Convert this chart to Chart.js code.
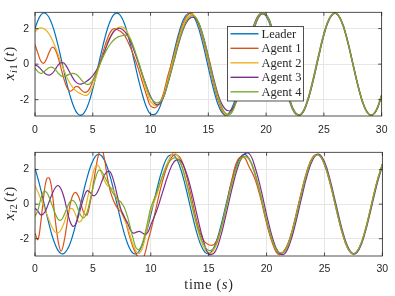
<!DOCTYPE html>
<html>
<head>
<meta charset="utf-8">
<script src="https://cdn.jsdelivr.net/npm/chart.js@4.4.1/dist/chart.umd.min.js"></script>
<style>
  html, body { margin: 0; padding: 0; background: #fff; overflow: hidden; }
  #wrap { position: relative; width: 395px; height: 296px; }
  #top, #bottom { position: absolute; left: 0; }
  #top { top: 0; }
  #bottom { top: 140px; }
</style>
</head>
<body>
<div id="wrap">
  <canvas id="top" width="395" height="140"></canvas>
  <canvas id="bottom" width="395" height="156"></canvas>
</div>
<script>
// time samples (s)
const times = [0,0.25,0.5,0.75,1,1.25,1.5,1.75,2,2.25,2.5,2.75,3,3.25,3.5,3.75,4,4.25,4.5,4.75,5,5.25,5.5,5.75,6,6.25,6.5,6.75,7,7.25,7.5,7.75,8,8.25,8.5,8.75,9,9.25,9.5,9.75,10,
  10.5,11,11.5,12,12.5,13,13.5,14,14.5,15,15.5,16,16.5,17,17.5,18,18.5,19,19.5,20,20.5,21,21.5,22,22.5,23,23.5,24,24.5,25,25.5,26,26.5,27,27.5,28,28.5,29,29.5,30];

const seriesNames = ['Leader', 'Agent 1', 'Agent 2', 'Agent 3', 'Agent 4'];
const xTicks = [0, 5, 10, 15, 20, 25, 30];
const yTicks = [-2, 0, 2];

// x_{i1}(t)
const leaderX1 = [2.01,2.46,2.76,2.88,2.82,2.59,2.20,1.67,1.04,0.34,-0.38,-1.08,-1.70,-2.22,-2.61,-2.83,-2.87,-2.74,-2.44,-1.98,-1.40,-0.74,-0.02,0.69,1.36,1.95,2.41,2.73,2.87,2.84,2.63,2.26,1.74,1.13,0.43,-0.29,-0.99,-1.62,-2.16,-2.57,-2.81,
  -2.77,-2.05,-0.83,0.60,1.87,2.69,2.85,2.31,1.21,-0.19,-1.54,-2.52,-2.88,-2.53,-1.57,-0.21,1.19,2.30,2.85,2.70,1.89,0.62,-0.81,-2.03,-2.77,-2.82,-2.18,-1.01,0.41,1.73,2.62,2.87,2.42,1.38,0.00,-1.38,-2.42,-2.87,-2.62,-1.72];
const agent1X1 = [1.10,0.62,0.18,0.05,0.30,0.70,0.95,0.82,0.38,-0.22,-0.82,-1.30,-1.52,-1.45,-1.27,-1.28,-1.45,-1.58,-1.56,-1.35,-0.95,-0.55,-0.12,0.38,0.92,1.40,1.78,1.98,1.98,1.90,1.80,1.62,1.32,0.95,0.55,0.10,-0.38,-0.92,-1.45,-1.95,-2.35,
  -2.42,-1.88,-0.65,0.45,1.68,2.55,2.88,2.48,1.50,0.15,-1.25,-2.32,-2.90,-2.68,-1.75,-0.40,1.05,2.22,2.82,2.76,1.98,0.72,-0.72,-1.96,-2.74,-2.84,-2.22,-1.06,0.36,1.70,2.60,2.87,2.44,1.40,0.02,-1.36,-2.41,-2.87,-2.63,-1.74];
const agent2X1 = [1.82,1.98,2.04,2.00,1.88,1.66,1.36,0.98,0.55,0.10,-0.33,-0.72,-1.05,-1.30,-1.48,-1.60,-1.68,-1.75,-1.75,-1.58,-1.25,-0.80,-0.28,0.25,0.75,1.20,1.55,1.82,1.98,2.07,2.10,2.02,1.80,1.45,1.00,0.48,-0.05,-0.62,-1.18,-1.70,-2.10,
  -2.35,-1.98,-0.85,0.35,1.55,2.45,2.80,2.55,1.62,0.28,-1.10,-2.20,-2.84,-2.75,-1.88,-0.50,0.95,2.15,2.80,2.78,2.02,0.78,-0.66,-1.92,-2.72,-2.85,-2.25,-1.10,0.32,1.66,2.58,2.87,2.46,1.43,0.05,-1.33,-2.39,-2.87,-2.65,-1.77];
const agent3X1 = [-0.05,-0.12,-0.28,-0.45,-0.58,-0.62,-0.52,-0.30,-0.05,0.08,0.06,-0.15,-0.45,-0.75,-0.98,-1.10,-1.12,-1.05,-0.95,-0.82,-0.65,-0.42,-0.12,0.25,0.68,1.10,1.48,1.78,1.95,2.02,1.98,1.85,1.62,1.30,0.90,0.45,-0.02,-0.50,-0.98,-1.42,-1.82,
  -2.28,-2.05,-1.10,0.10,1.30,2.22,2.62,2.50,1.70,0.45,-0.90,-2.00,-2.55,-2.58,-1.95,-0.65,0.80,2.05,2.76,2.78,2.08,0.86,-0.58,-1.88,-2.70,-2.85,-2.28,-1.15,0.26,1.62,2.56,2.86,2.48,1.46,0.08,-1.30,-2.37,-2.86,-2.66,-1.79];
const agent4X1 = [-0.22,-0.42,-0.52,-0.45,-0.30,-0.19,-0.18,-0.30,-0.50,-0.66,-0.70,-0.64,-0.56,-0.52,-0.55,-0.68,-0.88,-1.05,-1.14,-1.10,-0.90,-0.58,-0.18,0.20,0.55,0.86,1.12,1.32,1.46,1.55,1.60,1.63,1.60,1.40,1.02,0.55,0.05,-0.48,-1.00,-1.48,-1.88,
  -2.18,-2.00,-1.05,0.15,1.38,2.30,2.72,2.55,1.68,0.38,-1.02,-2.12,-2.78,-2.74,-1.90,-0.55,0.90,2.12,2.79,2.78,2.04,0.80,-0.64,-1.91,-2.72,-2.85,-2.25,-1.11,0.31,1.65,2.58,2.87,2.46,1.44,0.06,-1.32,-2.39,-2.87,-2.65,-1.77];

// x_{i2}(t)
const leaderX2 = [2.06,1.49,0.84,0.13,-0.58,-1.26,-1.87,-2.35,-2.69,-2.86,-2.85,-2.67,-2.33,-1.83,-1.22,-0.53,0.18,0.89,1.53,2.09,2.51,2.79,2.88,2.80,2.54,2.12,1.58,0.93,0.23,-0.49,-1.18,-1.79,-2.29,-2.65,-2.85,-2.87,-2.71,-2.38,-1.91,-1.31,-0.62,
  0.79,2.02,2.76,2.82,2.19,1.02,-0.40,-1.72,-2.61,-2.87,-2.43,-1.39,-0.01,1.37,2.42,2.87,2.62,1.73,0.42,-1.00,-2.17,-2.81,-2.76,-2.04,-0.80,0.61,1.88,2.70,2.85,2.31,1.20,-0.21,-1.56,-2.53,-2.88,-2.53,-1.56,-0.21,1.20,2.31];
const agent1X2 = [-1.68,-2.05,-1.05,0.45,1.45,1.50,0.60,-0.90,-2.15,-2.72,-2.20,-1.20,-0.15,0.50,0.68,0.45,-0.05,-0.55,-0.62,0.05,1.00,2.05,2.90,3.20,2.60,1.55,0.75,0.25,-0.10,-0.35,-0.45,-0.80,-1.45,-2.05,-2.55,-2.90,-3.15,-3.20,-2.85,-2.15,-1.55,
  -0.10,1.30,2.32,2.84,2.72,1.85,0.45,-1.05,-2.05,-2.35,-2.30,-1.55,-0.20,1.40,2.55,2.75,2.15,1.45,0.30,-1.10,-2.25,-2.90,-2.70,-1.98,-0.72,0.70,1.95,2.74,2.86,2.28,1.15,-0.26,-1.60,-2.55,-2.88,-2.52,-1.54,-0.18,1.22,2.32];
const agent2X2 = [1.08,0.70,0.30,-0.12,-0.55,-0.98,-1.38,-1.62,-1.66,-1.48,-1.10,-0.60,-0.30,-0.28,-0.60,-1.02,-0.95,-0.50,0.22,1.00,1.75,2.22,2.20,1.80,1.35,1.08,0.98,0.82,0.45,-0.10,-0.55,-0.95,-1.35,-1.90,-2.40,-2.75,-2.85,-2.60,-2.00,-1.20,-0.40,
  0.50,1.60,2.50,2.98,2.55,1.45,0.05,-1.35,-2.40,-2.85,-2.60,-1.62,-0.25,1.15,2.25,2.72,2.58,1.78,0.50,-0.92,-2.10,-2.78,-2.77,-2.08,-0.85,0.56,1.84,2.68,2.86,2.33,1.23,-0.18,-1.53,-2.52,-2.88,-2.54,-1.58,-0.24,1.17,2.29];
const agent3X2 = [-0.24,-0.40,-0.62,-0.55,-0.25,0.20,0.62,0.95,1.08,0.88,0.40,-0.30,-0.95,-1.28,-1.18,-0.70,-0.10,0.45,0.78,0.68,0.50,0.55,0.85,1.28,1.68,1.88,1.86,1.45,0.80,0.10,-0.45,-0.80,-1.10,-1.50,-1.68,-1.62,-1.58,-1.65,-1.75,-1.62,-1.20,
  -0.40,0.65,1.70,2.45,2.55,1.95,0.80,-0.65,-2.00,-2.88,-2.80,-1.95,-0.60,0.85,2.10,2.85,2.92,2.15,0.90,-0.60,-1.92,-2.75,-2.90,-2.30,-1.12,0.30,1.65,2.58,2.90,2.45,1.38,-0.02,-1.40,-2.44,-2.88,-2.60,-1.68,-0.36,1.05,2.22];
const agent4X2 = [-0.72,-0.35,0.30,0.73,0.68,0.35,-0.10,-0.55,-0.88,-0.92,-0.65,-0.25,0.12,0.22,0.05,-0.35,-0.70,-0.78,-0.45,0.20,0.92,1.55,1.95,1.90,1.60,1.28,0.95,0.62,0.38,0.22,0.05,-0.25,-0.75,-1.40,-2.05,-2.55,-2.62,-2.30,-1.70,-0.95,-0.20,
  0.65,1.62,2.35,2.68,2.45,1.45,0.10,-1.25,-2.25,-2.68,-2.50,-1.58,-0.20,1.20,2.28,2.75,2.60,1.78,0.50,-0.92,-2.10,-2.76,-2.76,-2.08,-0.86,0.56,1.84,2.67,2.84,2.32,1.23,-0.18,-1.53,-2.51,-2.87,-2.54,-1.58,-0.24,1.17,2.29];

// MATLAB default line colours
const colors = ['#0072BD', '#D95319', '#EDB120', '#7E2F8E', '#77AC30'];

const tickFont = { family: '"Liberation Sans", Arial, Helvetica, sans-serif', size: 10.5 };
const serif = '"Liberation Serif", "Times New Roman", serif';

function makeDatasets(list) {
  return list.map((arr, i) => ({
    label: seriesNames[i],
    data: times.map((t, k) => ({ x: t, y: arr[k] })),
    borderColor: colors[i],
    borderWidth: 1.2,
    pointRadius: 0,
    tension: 0.4,
    fill: false,
    order: list.length - i   // leader underneath, agent 4 on top (as in matlab)
  }));
}

// box, inward ticks, axis labels, legend
const matlabAxes = {
  id: 'matlabAxes',
  afterDraw(chart, args, opts) {
    const { ctx, chartArea: a, scales } = chart;
    ctx.save();
    ctx.strokeStyle = '#262626';
    ctx.lineWidth = 0.8;
    ctx.beginPath();
    scales.x.ticks.forEach(t => {
      const px = scales.x.getPixelForValue(t.value);
      ctx.moveTo(px, a.bottom); ctx.lineTo(px, a.bottom - 3.5);
      ctx.moveTo(px, a.top); ctx.lineTo(px, a.top + 3.5);
    });
    scales.y.ticks.forEach(t => {
      const py = scales.y.getPixelForValue(t.value);
      ctx.moveTo(a.left, py); ctx.lineTo(a.left + 3.5, py);
      ctx.moveTo(a.right, py); ctx.lineTo(a.right - 3.5, py);
    });
    ctx.stroke();
    ctx.strokeRect(a.left, a.top, a.right - a.left, a.bottom - a.top);

    // y label  x_{iN}(t)
    ctx.fillStyle = '#262626';
    ctx.textBaseline = 'alphabetic';
    const parts = [
      { t: 'x', f: 'italic 15px ' + serif, dy: 0 },
      { t: 'i', f: 'italic 10.5px ' + serif, dy: 3 },
      { t: opts.sub, f: '10.5px ' + serif, dy: 3 },
      { t: '(', f: '15px ' + serif, dy: 0, pad: 1.5 },
      { t: 't', f: 'italic 15px ' + serif, dy: 0 },
      { t: ')', f: '15px ' + serif, dy: 0 }
    ];
    let w = 0;
    parts.forEach(p => { ctx.font = p.f; p.w = ctx.measureText(p.t).width + 0.6; w += p.w + (p.pad || 0); });
    ctx.save();
    ctx.translate(14, (a.top + a.bottom) / 2 - 1);
    ctx.rotate(-Math.PI / 2);
    let x = -w / 2;
    parts.forEach(p => { x += (p.pad || 0); ctx.font = p.f; ctx.fillText(p.t, x, p.dy); x += p.w; });
    ctx.restore();

    if (opts.xLabel) {
      ctx.textBaseline = 'middle';
      const xp = [
        { t: 'time (', f: '14px ' + serif },
        { t: 's', f: 'italic 14px ' + serif },
        { t: ')', f: '14px ' + serif }
      ];
      ctx.letterSpacing = '0.8px';
      let xw = 0;
      xp.forEach(p => { ctx.font = p.f; p.w = ctx.measureText(p.t).width; xw += p.w; });
      let xx = 209 - xw / 2;
      xp.forEach(p => { ctx.font = p.f; ctx.fillText(p.t, xx, opts.xLabelY); xx += p.w; });
      ctx.letterSpacing = '0px';
    }

    if (opts.legend) {
      const L = opts.legend;
      ctx.fillStyle = '#fff';
      ctx.fillRect(L.x, L.y, L.w, L.h);
      ctx.strokeStyle = '#262626';
      ctx.lineWidth = 0.8;
      ctx.strokeRect(L.x, L.y, L.w, L.h);
      ctx.font = '12.5px ' + serif;
      ctx.textBaseline = 'middle';
      chart.data.datasets.forEach((ds, i) => {
        const yy = L.y + 7.3 + i * 14.5;
        ctx.strokeStyle = ds.borderColor;
        ctx.lineWidth = 1.4;
        ctx.beginPath();
        ctx.moveTo(L.x + 3, yy); ctx.lineTo(L.x + 31, yy);
        ctx.stroke();
        ctx.fillStyle = '#262626';
        ctx.fillText(ds.label, L.x + 34, yy + 0.5);
      });
    }
    ctx.restore();
  }
};

function axesOptions(yMin, yMax, xHeight, tickPad, padTop, extra) {
  return {
    responsive: false,
    animation: false,
    events: [],
    layout: { padding: { top: padTop, right: 9, left: 0, bottom: 0 } },
    scales: {
      x: {
        type: 'linear', min: 0, max: 30,
        afterBuildTicks: s => { s.ticks = xTicks.map(v => ({ value: v })); },
        afterFit: s => { s.height = xHeight; },
        grid: { color: '#e6e6e6', drawTicks: false },
        border: { display: false },
        ticks: { font: tickFont, color: '#262626', padding: tickPad, maxRotation: 0 }
      },
      y: {
        min: yMin, max: yMax,
        afterBuildTicks: s => { s.ticks = yTicks.map(v => ({ value: v })); },
        afterFit: s => { s.width = 35; },
        grid: { color: '#e6e6e6', drawTicks: false },
        border: { display: false },
        ticks: { font: tickFont, color: '#262626', padding: 6 }
      }
    },
    plugins: {
      legend: { display: false },
      tooltip: { enabled: false },
      matlabAxes: extra
    }
  };
}

new Chart(document.getElementById('top'), {
  type: 'line',
  data: { datasets: makeDatasets([leaderX1, agent1X1, agent2X1, agent3X1, agent4X1]) },
  options: axesOptions(-2.92, 2.92, 24, 7.5, 7, {
    sub: '1',
    legend: { x: 227.5, y: 26.5, w: 76, h: 74.5 }
  }),
  plugins: [matlabAxes]
});

new Chart(document.getElementById('bottom'), {
  type: 'line',
  data: { datasets: makeDatasets([leaderX2, agent1X2, agent2X2, agent3X2, agent4X2]) },
  options: axesOptions(-3, 3, 40, 6.8, 4.7, {
    sub: '2',
    xLabel: true,
    xLabelY: 145.5
  }),
  plugins: [matlabAxes]
});
</script>
</body>
</html>
